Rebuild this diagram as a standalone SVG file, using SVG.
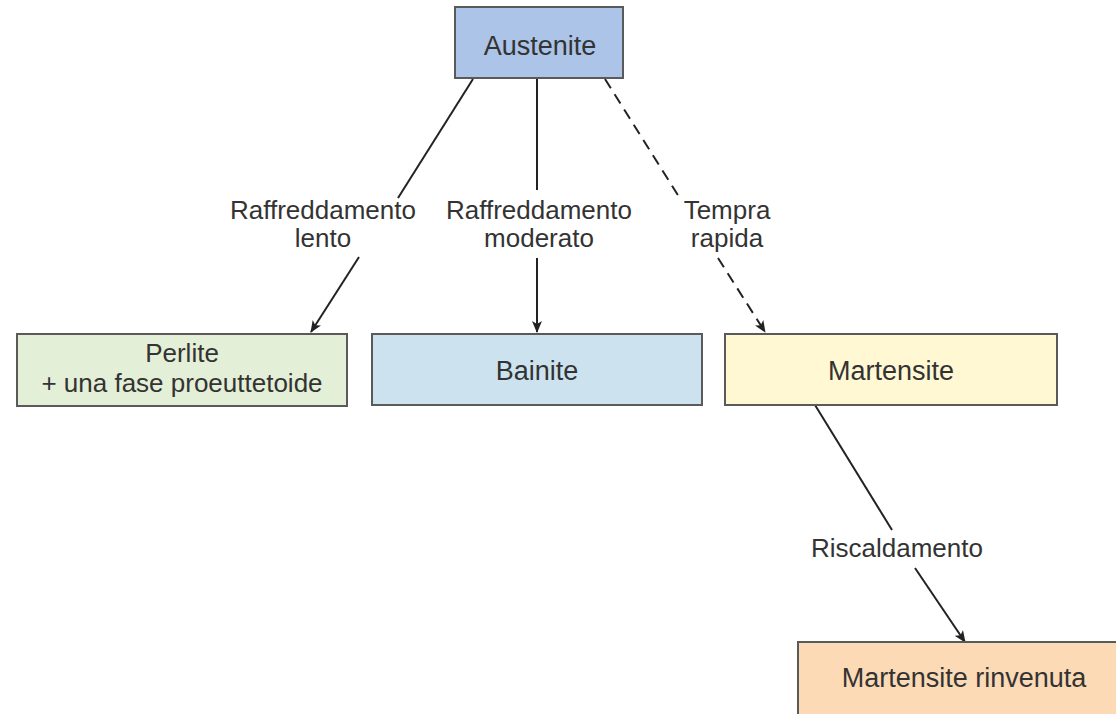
<svg xmlns="http://www.w3.org/2000/svg" width="1116" height="714" viewBox="0 0 1116 714">
  <style>
    .box { stroke: #5a5a5a; stroke-width: 2; }
    .bt { font-family: "Liberation Sans", Arial, sans-serif; font-size: 27px; fill: #333; text-anchor: middle; }
    .bt2 { font-family: "Liberation Sans", Arial, sans-serif; font-size: 26px; fill: #333; text-anchor: middle; }
    .lt { font-family: "Liberation Sans", Arial, sans-serif; font-size: 26px; fill: #333; text-anchor: middle; }
    .ln { stroke: #222; stroke-width: 2; fill: none; }
    .dash { stroke-dasharray: 11 7; }
  </style>
  <defs>
    <marker id="arr" viewBox="0 0 12 10" refX="11" refY="5" markerWidth="12" markerHeight="10" markerUnits="userSpaceOnUse" orient="auto">
      <path d="M0,0 L12,5 L0,10 L3,5 Z" fill="#222"/>
    </marker>
  </defs>
  <rect width="1116" height="714" fill="#fff"/>

  <g id="connectors">
    <line class="ln" x1="473" y1="79" x2="398" y2="198"/>
    <line class="ln" x1="359" y1="257" x2="311" y2="332" marker-end="url(#arr)"/>
    <line class="ln" x1="537" y1="79" x2="537" y2="190"/>
    <line class="ln" x1="537" y1="258" x2="537" y2="332" marker-end="url(#arr)"/>
    <line class="ln dash" x1="605" y1="79" x2="681" y2="200"/>
    <line class="ln dash" x1="718" y1="258" x2="765" y2="332" marker-end="url(#arr)"/>
    <line class="ln" x1="815" y1="405" x2="892" y2="530"/>
    <line class="ln" x1="915" y1="568" x2="965" y2="642" marker-end="url(#arr)"/>
    <text class="lt" x="323" y="219">Raffreddamento</text>
    <text class="lt" x="323" y="247">lento</text>
    <text class="lt" x="539" y="219">Raffreddamento</text>
    <text class="lt" x="539" y="247">moderato</text>
    <text class="lt" x="727" y="219">Tempra</text>
    <text class="lt" x="727" y="247">rapida</text>
    <text class="lt" x="897" y="557">Riscaldamento</text>
  </g>

  <g id="austenite">
    <rect class="box" x="455" y="7" width="168" height="71" fill="#abc4e8"/>
    <text class="bt" x="540" y="55">Austenite</text>
  </g>
  <g id="perlite">
    <rect class="box" x="17" y="334" width="330" height="72" fill="#e3efd6"/>
    <text class="bt2" x="182" y="362">Perlite</text>
    <text class="bt2" x="182" y="392">+ una fase proeuttetoide</text>
  </g>
  <g id="bainite">
    <rect class="box" x="372" y="334" width="330" height="71" fill="#cde2ef"/>
    <text class="bt" x="537" y="380">Bainite</text>
  </g>
  <g id="martensite">
    <rect class="box" x="725" y="334" width="332" height="71" fill="#fff8d2"/>
    <text class="bt" x="891" y="380">Martensite</text>
  </g>
  <g id="martensite-rinvenuta">
    <rect class="box" x="798" y="642" width="340" height="80" fill="#fddab6"/>
    <text class="bt" x="964" y="687">Martensite rinvenuta</text>
  </g>
</svg>
